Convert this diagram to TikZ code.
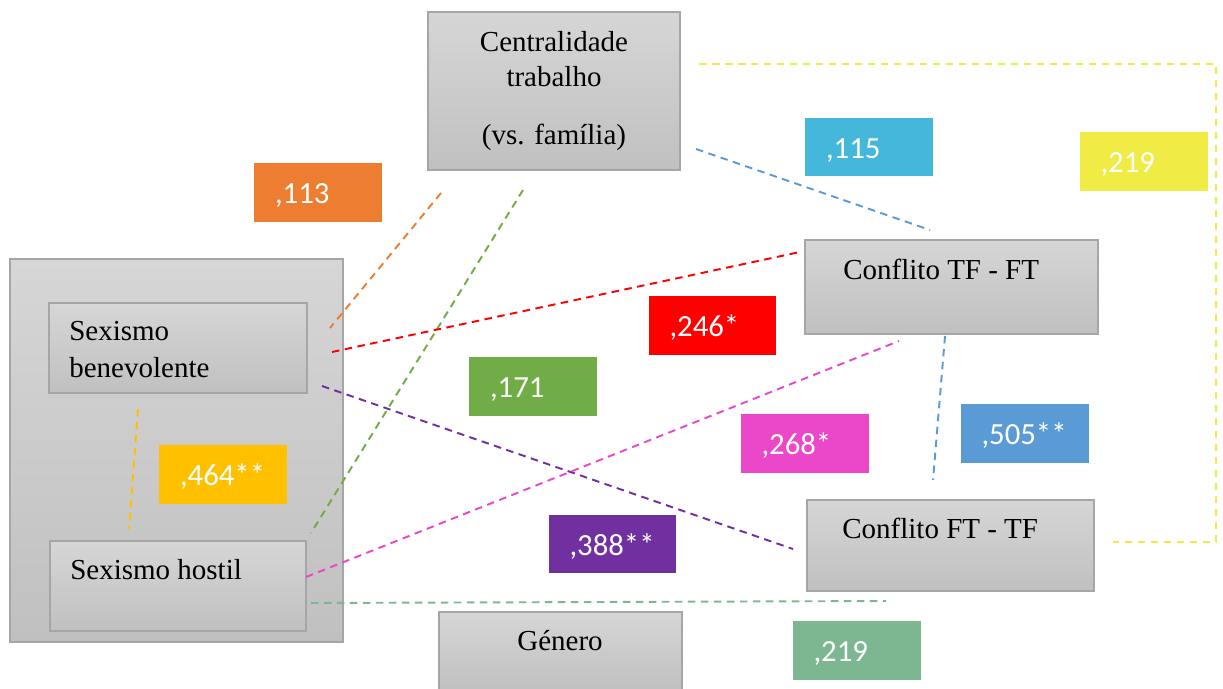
\documentclass[tikz,border=0pt]{standalone}
\usepackage{fontspec}
\setmainfont{Liberation Serif}
\newfontfamily\labfont{Carlito}

% box shading and outline
\definecolor{boxtop}{RGB}{214,214,214}
\definecolor{boxbot}{RGB}{192,192,192}
\definecolor{boxline}{RGB}{166,166,166}
% coefficient colours
\definecolor{cOrange}{RGB}{237,125,49}
\definecolor{cCyan}{RGB}{69,183,218}
\definecolor{cYellow}{RGB}{241,235,69}
\definecolor{cRed}{RGB}{255,0,0}
\definecolor{cGreen}{RGB}{112,173,71}
\definecolor{cMagenta}{RGB}{234,72,200}
\definecolor{cBlue}{RGB}{91,155,213}
\definecolor{cGold}{RGB}{255,192,0}
\definecolor{cPurple}{RGB}{112,48,160}
\definecolor{cTeal}{RGB}{125,183,145}

\begin{document}
\begin{tikzpicture}[x=0.02cm,y=-0.02cm,
  gbox/.style={rectangle, draw=boxline, line width=0.8pt,
    top color=boxtop, bottom color=boxbot, inner sep=0pt},
  coef/.style={rectangle, inner xsep=0.42cm, inner ysep=0pt,
    text width=1.72cm, align=left, minimum height=1.18cm,
    text height=12.8pt, text depth=0pt, text=white,
    font=\labfont\fontsize{17.5}{19}\selectfont},
  txt/.style={inner sep=0pt, font=\fontsize{16.5}{21}\selectfont},
  link/.style={line width=1.1pt, dash pattern=on 0.15cm off 0.11cm}]

\useasboundingbox (0,0) rectangle (1223,689);

% ---- variable boxes ----
\node[gbox, minimum width=5.04cm, minimum height=3.16cm] (cent) at (554,91) {};
\node[txt, anchor=base] (cent1) at (554,51.7) {Centralidade};
\node[txt, anchor=base] (cent2) at (554,86.7) {trabalho};
\node[txt, anchor=base] (cent3) at (554,145) {(vs. família)};

\node[gbox, minimum width=6.66cm, minimum height=7.66cm] (sex) at (176.5,450.5) {};

\node[gbox, minimum width=5.16cm, minimum height=1.8cm] (sb) at (178,348) {};
\node[txt, anchor=base west] (sb1) at (69,340.7) {Sexismo};
\node[txt, anchor=base west] (sb2) at (69,377.7) {benevolente};

\node[gbox, minimum width=5.12cm, minimum height=1.8cm] (sh) at (178,586) {};
\node[txt, anchor=base west] (sh1) at (70,579) {Sexismo hostil};

\node[gbox, minimum width=5.86cm, minimum height=1.88cm] (tf) at (951.5,287) {};
\node[txt, anchor=base west] (tf1) at (843,279) {Conflito TF - FT};

\node[gbox, minimum width=5.74cm, minimum height=1.82cm] (ft) at (950.5,545.5) {};
\node[txt, anchor=base west] (ft1) at (842,538) {Conflito FT - TF};

\node[gbox, minimum width=4.86cm, minimum height=1.56cm] (gen) at (560.5,651) {};
\node[txt, anchor=base] (gen1) at (560,650) {Género};

% ---- coefficient labels ----
\node[coef, fill=cOrange]  (k113)  at (318,192.5)   {,113};
\node[coef, fill=cCyan]    (k115)  at (869,147)     {,115};
\node[coef, fill=cYellow]  (k219a) at (1143.5,161.5){,219};
\node[coef, fill=cRed]     (k246)  at (712.5,325.5) {,246*};
\node[coef, fill=cGreen]   (k171)  at (533,386.5)   {,171};
\node[coef, fill=cMagenta] (k268)  at (804.5,443.5) {,268*};
\node[coef, fill=cBlue]    (k505)  at (1024.5,433.5){,505**};
\node[coef, fill=cGold]    (k464)  at (223,474.5)   {,464**};
\node[coef, fill=cPurple]  (k388)  at (612.5,544)   {,388**};
\node[coef, fill=cTeal]    (k219b) at (856.5,650)   {,219};

% ---- end points of the dashed links ----
\coordinate (oA) at (441,193);  \coordinate (oB) at (330,328);
\coordinate (gA) at (523,190);  \coordinate (gB) at (311,533);
\coordinate (cA) at (696,149);  \coordinate (cB) at (930,230);
\coordinate (rA) at (332,352);  \coordinate (rB) at (800,252);
\coordinate (pA) at (322,386);  \coordinate (pB) at (793,549);
\coordinate (mA) at (306,577);  \coordinate (mB) at (899,341);
\coordinate (bA) at (945,336);  \coordinate (bB) at (933,480);
\coordinate (yA) at (138,409);  \coordinate (yB) at (129,529);
\coordinate (tA) at (311,603);  \coordinate (tB) at (886,601);
\coordinate (wA) at (699,64);   \coordinate (wB) at (1216,64);
\coordinate (wC) at (1216,542); \coordinate (wD) at (1113,542);

% ---- dashed links ----
\draw[link, cOrange]  (oA) -- (oB);
\draw[link, cGreen]   (gA) -- (gB);
\draw[link, cBlue]    (cA) -- (cB);
\draw[link, cRed]     (rA) -- (rB);
\draw[link, cPurple]  (pA) -- (pB);
\draw[link, cMagenta] (mA) -- (mB);
\draw[link, cBlue]    (bA) -- (bB);
\draw[link, cGold]    (yA) -- (yB);
\draw[link, cTeal]    (tA) -- (tB);
\draw[link, cYellow]  (wA) -- (wB) -- (wC) -- (wD);

\end{tikzpicture}
\end{document}
